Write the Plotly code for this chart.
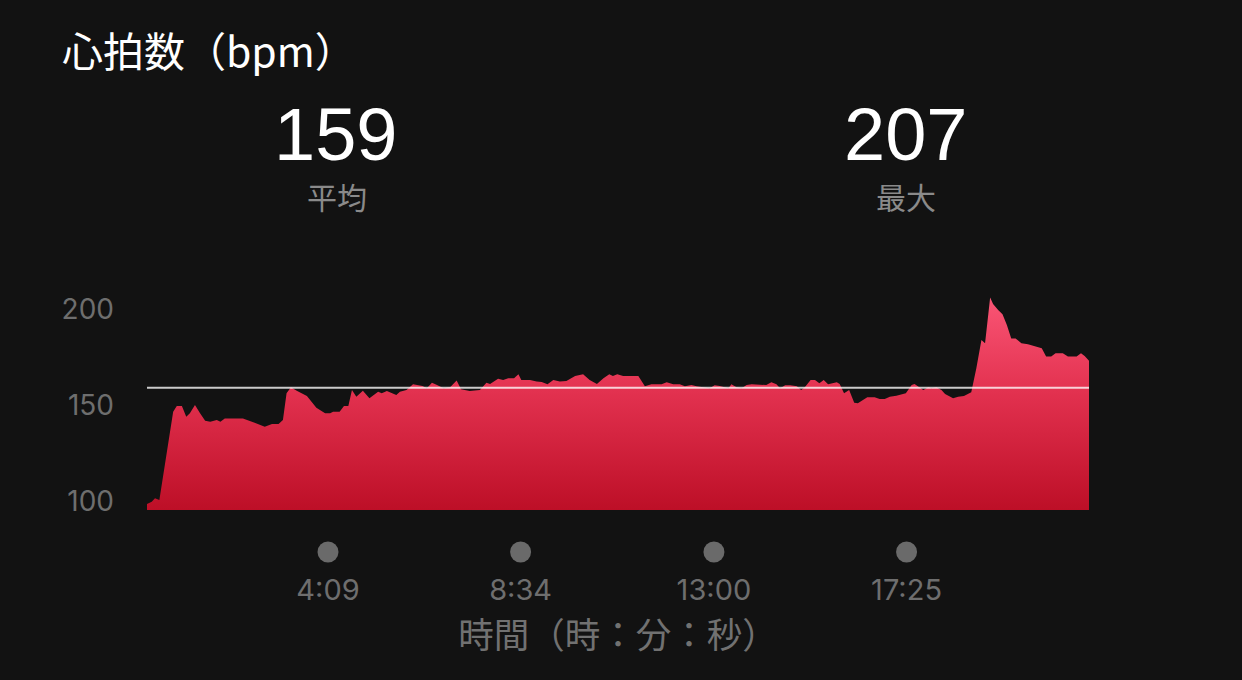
import plotly.graph_objects as go

# ---- data ----
time_s = [0, 6.5, 11, 17, 36, 41, 48, 54, 59, 66, 73, 80, 87, 96, 101, 107, 132, 151, 162, 172,
          181, 187, 192, 198, 206, 220, 233, 245, 252, 256, 265, 271, 277, 282, 288, 297, 306, 318,
          323, 330, 343, 348, 357, 366, 379, 385, 392, 399, 408, 417, 426, 432, 444, 458, 467, 472,
          483, 490, 497, 505, 511, 515, 527, 536, 543, 551, 559, 568, 577, 589, 600, 609, 619, 628,
          636, 641, 647, 655, 676, 685, 694, 708, 715, 724, 733, 740, 749, 756, 770, 774, 781, 788,
          800, 804, 811, 818, 825, 832, 852, 859, 866, 871, 878, 885, 894, 900, 905, 913, 919, 925,
          931, 937, 949, 953, 959, 966, 973, 978, 991, 1001, 1008, 1015, 1022, 1031, 1044, 1052,
          1056, 1068, 1075, 1079, 1086, 1093, 1098, 1109, 1116, 1124, 1134, 1141, 1148, 1153, 1160,
          1164, 1171, 1177, 1183, 1189, 1195, 1203, 1212, 1224, 1231, 1237, 1244, 1250, 1260, 1267,
          1279, 1285, 1290, 1296]
bpm = [98.4, 99.6, 101.4, 100.5, 146.5, 149.5, 149.5, 143.9, 145.7, 150, 145.7, 141.8, 141.3, 142.2,
       141.3, 143, 143, 140.1, 138.7, 140.1, 140.1, 142.2, 156.1, 159.2, 157.4, 154.7, 148.6, 145.7,
       145.7, 146.5, 146.5, 149.5, 149.5, 157.8, 154.3, 157.4, 153.5, 156.9, 156.1, 157.3, 155.2,
       156.9, 157.8, 160.8, 159.9, 158.7, 161.6, 160.4, 158.7, 159.2, 162.7, 158.2, 157.3, 157.8,
       161.6, 160.9, 163.7, 163, 163.9, 163.9, 166, 163, 163, 162.2, 162, 160.8, 163, 162.2, 162.5,
       165.1, 166, 163, 160.9, 163.9, 166, 165.1, 166, 165.1, 165.1, 159.7, 160.8, 160.8, 161.8,
       160.8, 160.8, 159.7, 160.4, 159.7, 159.2, 158.7, 160.3, 159.9, 158.7, 160.8, 159.2, 158.7,
       160.4, 160.8, 160.4, 161.8, 160.8, 158.7, 160.3, 160.3, 159.7, 157.8, 159.2, 163, 163, 161.3,
       163, 160.8, 161.8, 160.9, 156.1, 157.8, 151.2, 150.9, 154, 154, 153.1, 153.1, 154.3, 154.8,
       156.1, 160.4, 160.9, 157.8, 159.2, 158.7, 159.2, 157.8, 155.7, 153.5, 154.3, 154.7, 156.6,
       169.1, 183.9, 182.1, 206, 202.6, 199.5, 197.3, 191.7, 184.7, 184.7, 182.1, 181.6, 180.3,
       179.5, 175.2, 175.2, 176.9, 176.9, 175.2, 175.2, 176.9, 175.5, 173]

avg_bpm = 159
max_bpm = 207
x_tickvals = [249, 514, 780, 1045]
x_ticktext = ["4:09", "8:34", "13:00", "17:25"]
y_tickvals = [100, 150, 200]

title_text = "心拍数（bpm）"
avg_label = "平均"
max_label = "最大"
x_title = "時間（時：分：秒）"

# ---- layout constants ----
W, H = 1242, 680
ML, MR, MT, MB = 147, 153, 290, 170
Y_RANGE = [95.3, 209.9]
X_RANGE = [0, 1296]
BG = "#121212"
CJK = "Noto Sans CJK JP"
NUM = "Liberation Sans, Arial, sans-serif"
TICKF = "Inter, Liberation Sans, sans-serif"

plot_h = H - MT - MB


def paper_y(py):
    return (H - MB - py) / plot_h


def paper_x(px):
    return (px - ML) / (W - ML - MR)


fig = go.Figure()

fig.add_trace(go.Scatter(
    x=time_s, y=bpm, mode="lines", line=dict(width=0),
    fill="tozeroy",
    fillgradient=dict(type="vertical", start=Y_RANGE[0], stop=max(bpm),
                      colorscale=[[0, "#bd0f27"], [0.55, "#e2314f"], [1, "#fa5575"]]),
    hoverinfo="skip", showlegend=False,
))

fig.add_shape(type="line", xref="x", yref="y", x0=X_RANGE[0], x1=X_RANGE[1],
              y0=avg_bpm, y1=avg_bpm, line=dict(color="rgba(255,255,255,0.78)", width=2))

# tick dots below the axis
for tv in x_tickvals:
    fig.add_shape(type="circle", xref="x", yref="paper",
                  xsizemode="pixel", ysizemode="pixel",
                  xanchor=tv, yanchor=paper_y(552),
                  x0=-10.5, x1=10.5, y0=-10.5, y1=10.5,
                  fillcolor="#6a6a6a", line=dict(width=0))

annos = [
    dict(text=title_text, x=paper_x(60), y=paper_y(49), xanchor="left", yanchor="middle",
         font=dict(family=CJK, size=41, color="#ffffff")),
    dict(text=str(avg_bpm), x=paper_x(335), y=paper_y(134), xanchor="center", yanchor="middle",
         font=dict(family=NUM, size=74, color="#ffffff")),
    dict(text=str(max_bpm), x=paper_x(905), y=paper_y(134), xanchor="center", yanchor="middle",
         font=dict(family=NUM, size=74, color="#ffffff")),
    dict(text=avg_label, x=paper_x(337), y=paper_y(196), xanchor="center", yanchor="middle",
         font=dict(family=CJK, size=30, color="#8a8a8a")),
    dict(text=max_label, x=paper_x(906), y=paper_y(196), xanchor="center", yanchor="middle",
         font=dict(family=CJK, size=30, color="#8a8a8a")),
]
for a in annos:
    fig.add_annotation(xref="paper", yref="paper", showarrow=False, **a)

fig.update_layout(
    width=W, height=H, paper_bgcolor=BG, plot_bgcolor=BG,
    margin=dict(l=ML, r=MR, t=MT, b=MB),
    xaxis=dict(range=X_RANGE, showgrid=False, zeroline=False, showline=False,
               tickvals=x_tickvals, ticktext=x_ticktext, ticks="",
               ticklabelstandoff=60,
               tickfont=dict(family=TICKF, size=29, color="#6e6e6e"),
               title=dict(text=x_title, standoff=12,
                          font=dict(family=CJK, size=35.5, color="#717171")),
               fixedrange=True),
    yaxis=dict(range=Y_RANGE, showgrid=False, zeroline=False, showline=False,
               tickvals=y_tickvals, ticks="", ticklabelstandoff=32,
               tickfont=dict(family=TICKF, size=28, color="#6e6e6e"),
               fixedrange=True),
)

fig.write_html("out.html", config={"displayModeBar": False},
               post_script="document.body.style.margin='0';document.body.style.background='#121212';")
